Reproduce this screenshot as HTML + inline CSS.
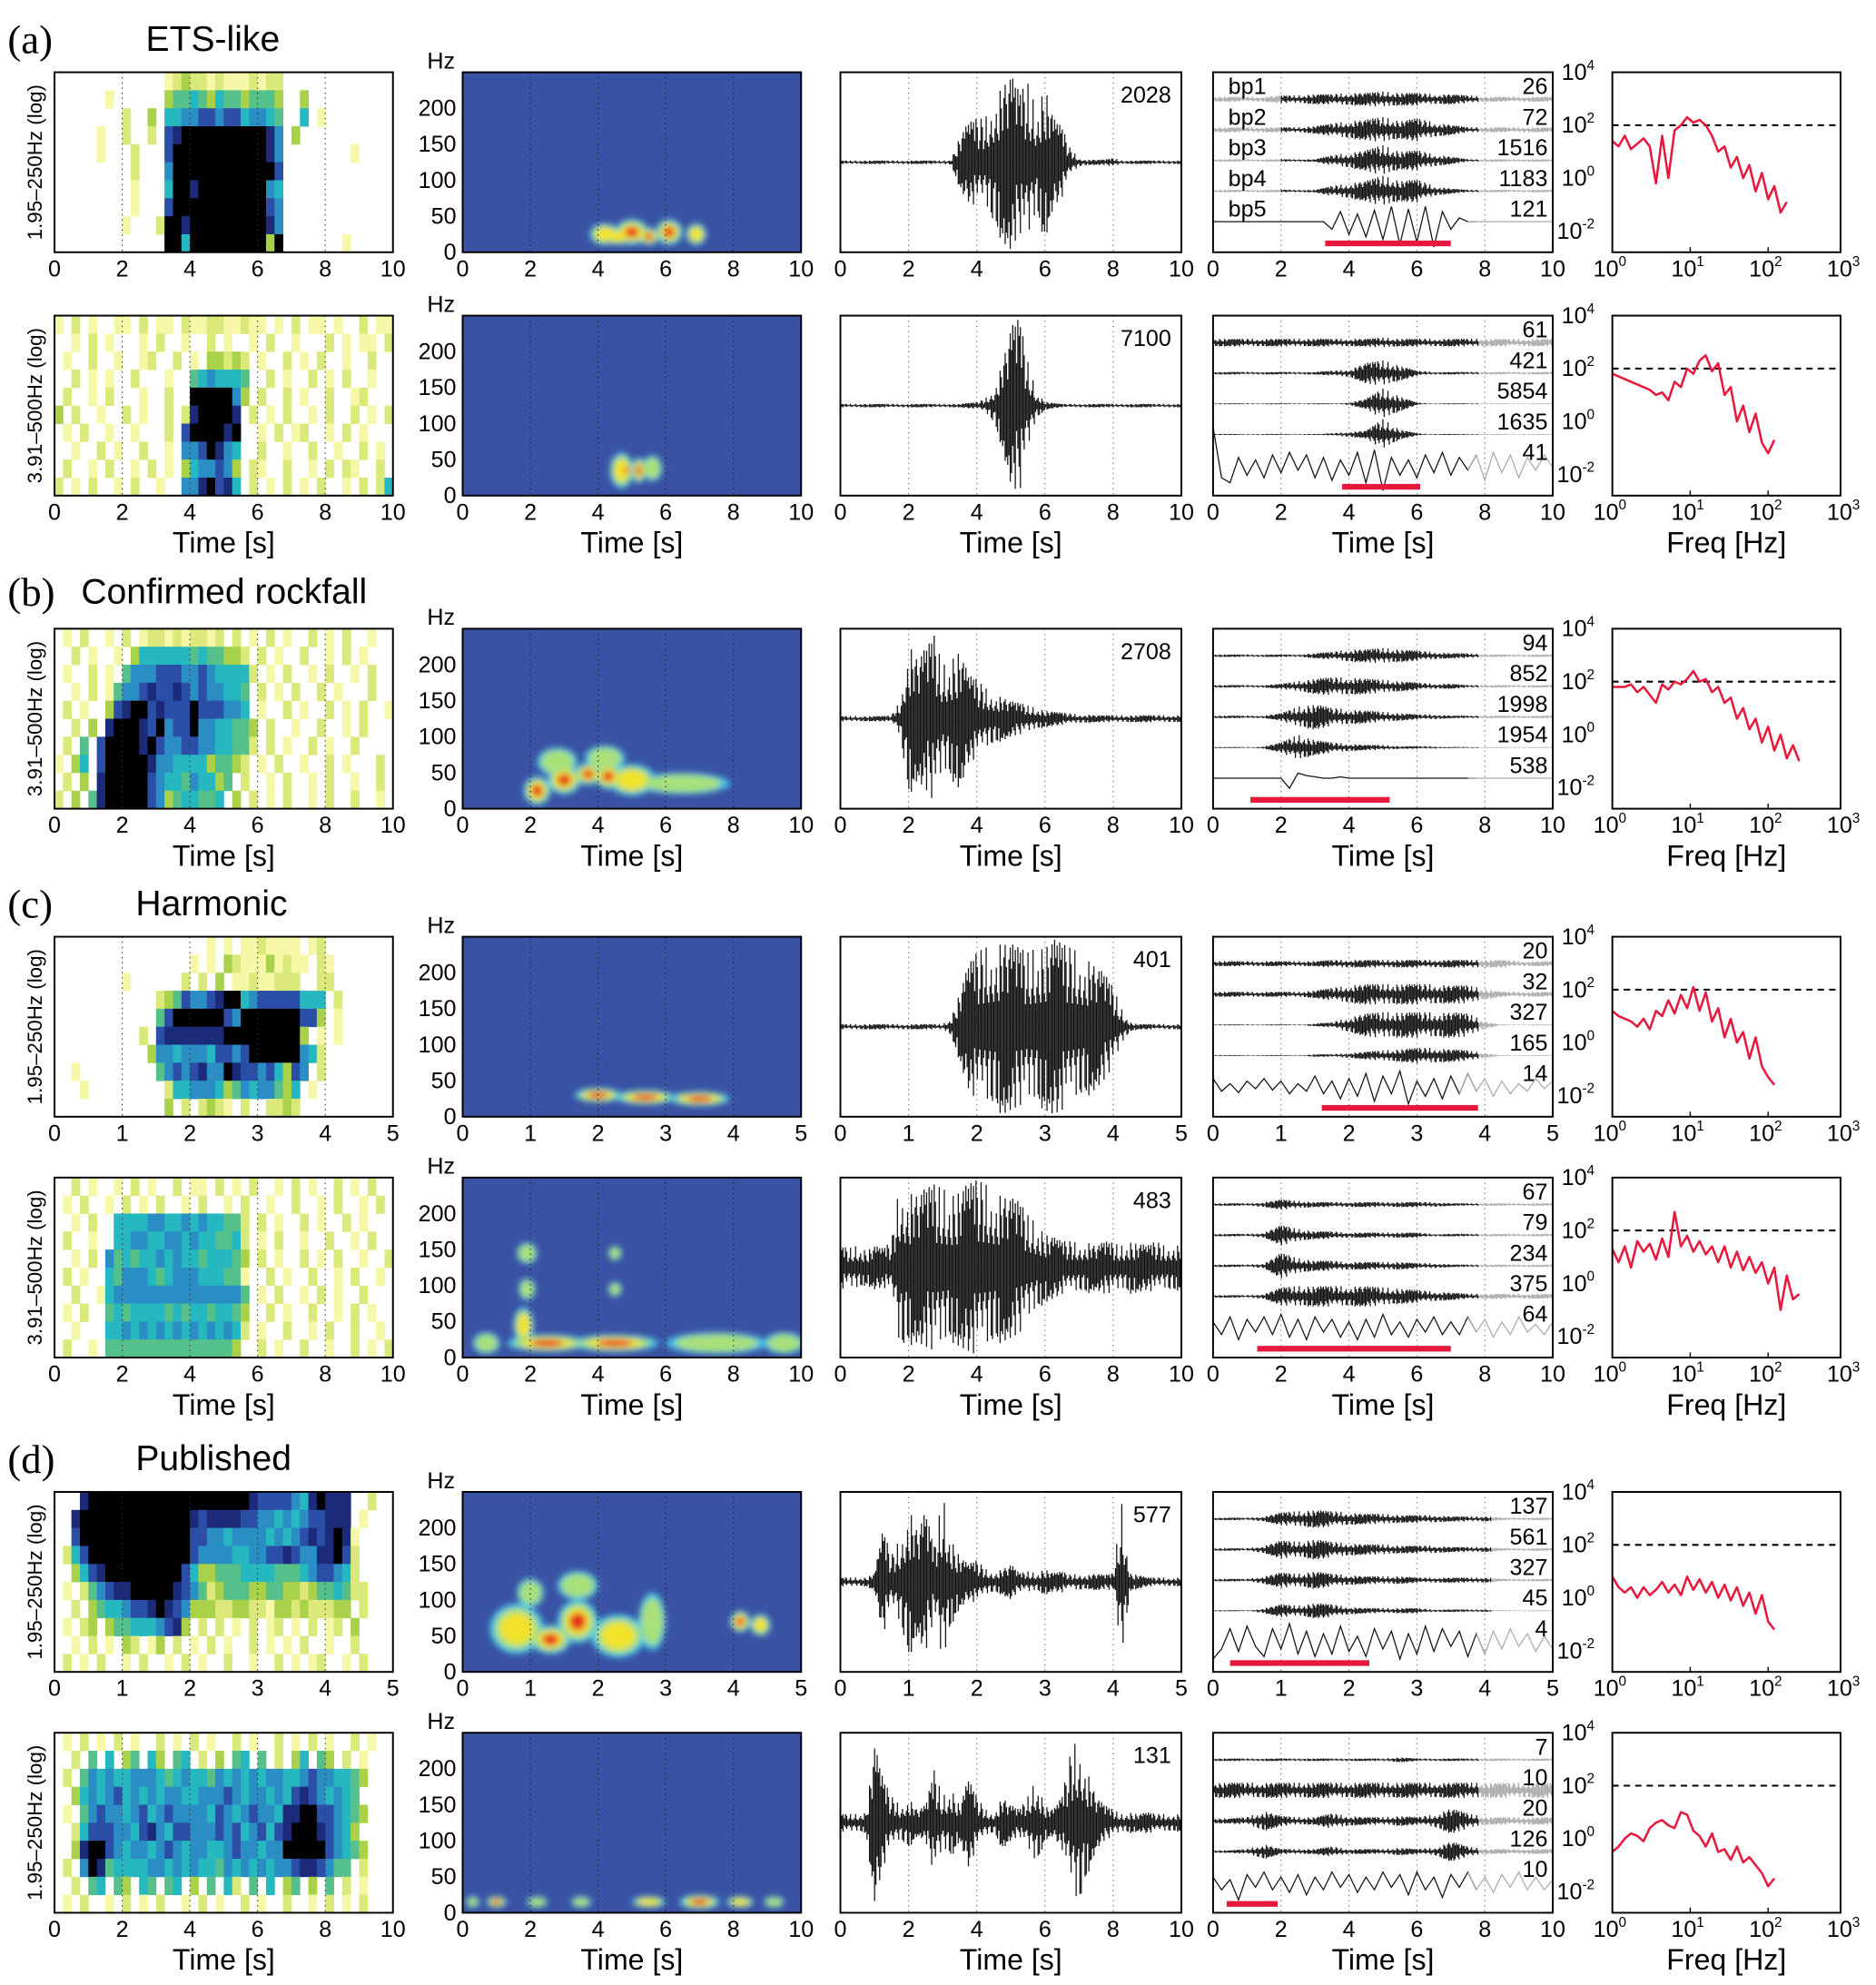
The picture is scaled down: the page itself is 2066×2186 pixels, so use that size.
<!DOCTYPE html>
<html><head><meta charset="utf-8">
<style>
html,body{margin:0;padding:0;background:#fff;}
svg{display:block;font-family:"Liberation Sans",sans-serif;}
</style></head>
<body>
<svg id="fig" width="2066" height="2186" viewBox="0 0 1480 1566" preserveAspectRatio="none" xmlns="http://www.w3.org/2000/svg">
<defs><filter id="blur" x="-50%" y="-50%" width="200%" height="200%"><feGaussianBlur stdDeviation="2.5"/></filter></defs>
<g font-family="Liberation Serif,serif" font-size="32"><text x="6" y="42">(a)</text><text x="6" y="478">(b)</text><text x="6" y="724">(c)</text><text x="6" y="1162">(d)</text></g>
<g font-size="28"><text x="115" y="40">ETS-like</text><text x="64" y="476">Confirmed rockfall</text><text x="107" y="722">Harmonic</text><text x="107" y="1160">Published</text></g>
</svg>
<script>
// ---------- DATA ----------
const rowTops=[57,249,496,739,929,1177,1367];
const rowTmax=[10,10,10,5,10,5,10];
const rowYLabels=['1.95–250Hz (log)','3.91–500Hz (log)','3.91–500Hz (log)','1.95–250Hz (log)','3.91–500Hz (log)','1.95–250Hz (log)','1.95–250Hz (log)'];
const waveNums=['2028','7100','2708','401','483','577','131'];
const heat_a1=[".............12322121112122..............","......1......34454354434443..3...........","........2..3.55667767756654..5.1.........",".....1..2..2.78999999999986.3............",".....1...2...79999999999986........1.....",".........2...69999999999997..............",".........1...59989999999965..............",".........1...79999999999976..............","........1...299899999999986..............",".............99599999999939.......1....."];
const heat_a2=["1.2.1..11.2.11.2112211211.1.2.11.1..2.11","..1.2.1...1.2..1..2.1..1.2..1...2.1.11.2",".1..2..1..12..2.1.33232.1..2.1.2..1..2..","..2.1.1..2...1..4565554..2.1..2.1.2..1..",".2..1.2...1..2..9999963.2..2.1..2..12...","3.2..1..2.1..2.2899998.2.1.2..1.2..2.1.2",".1.2..1..1...2.7999989..1.2.12..1.2.1...","..1..2.1..2..1.6679865..2..1..2..1..2.1.",".2..1.2..1.2.1.3566763.21..2..1.2.21..2.","2.1.2..1.2..1..6689785.2.1.2.1.2..1.2.25"];
const heat_b=[".1.2..1.2.1221212212.2.1.2.1..2.1.2..1..","..2.1..1.35555554544332.2.1..2..1.2.1...",".1..2.1.4666777667655552.1.2..1.2..1.2..","..1.2.14667877876766554.2.1.2..2.1...2..",".2.1..37899787779777665.1..2.1..2.1.2..1","..2.3.899987967796655443.2..1..2..1.2...",".2.4.7999989766776655442.2.1..2.1..2....","1.35.799999866555534432.1.2..1..2.1...2.",".2.3.8999997655465534.2..1.2..1.2..1..2.","2.3.4899999763455445.3.2.1.2..1.2..2..1."];
const heat_c1=["..................1.1.1121111.12........","................1.1.3211131211.21.......","........1......2.2.3.11211222..22.......","............23476678995677777555.2......","............47999999769999999773.1......","..........2.788888889999999993.1.1......","...........366566657767999999652........","..1.........467678669877675376.2........","...1.........2556665346566435.1.........",".............3.2.2321.2..2232..........."];
const heat_c2=["..2.1..1.2.1..2.11.2.1.2..1.2.1..2.1.2..",".1.2..1.2.1.2..1.2..1.2..1..2..1.2..1.2.","..1.2..5555665565655442.2.1..2.1..2.1...",".2..1..5566556656554452.1.2..1..2..1.2..","..1.2.64545565655455543.2.1..2.1.2..1..2",".2.1..54666545666555441..2.1..2..1.2..1.","..2..156666666666666664.1.2..1.2.1..2...",".1.2..45455554545545543..2.1..2..1.2.1..","..1...55656565656565652.1..2..1.2..2..1.",".2..1.4444444444444443..2.1..2..1..2.1.2"];
const heat_d1=["...89999999999999999999877776589888..2..","..899999999999998788887766565677888.1...","..7999999999999977665666656567878981....",".25799999999999976666556677876688972....","..3578999999999753344455554445677652....",".1.2467889999987642344433443323445422...","..2.3455677898763332233221332322233.2...",".1.23.3445556783.2.2.1.2.12.1.2.12.3....","..1.2.1.32.13.2.1.2.1..2.1.1.2..1..2....",".2.1.2..1.2..1.2.1..2..1..2.1.12..1.2..."];
const heat_d2=[".1.2.1.2.1..2.1.2.1..2.1..2.1.2.1..2.1..","..2.4.5.34.53.45.2.3.45.4.2.35.43.2.1...",".2.4656556665456554656565665567665543...","..3565675656566556667656656578765654....",".1.4676656756766665765676658899776543...","..2577766578657766676756757899987653....","..38997656656765665567665669999976543...",".2.69845555665656554656565667887644.2...","..2.45.43.54.45.3.4.52.4.5.34.3.4.2.1...",".1.2..1.2.1.2..1.2.1..2.1..2..1.2.1.2..."];
// spectrogram blobs: [time s, freq Hz, half-width s, half-height Hz, level]
const spec_a1=[[4.2,25,0.45,15,2],[4.6,22,0.4,12,2],[5.0,28,0.5,18,3],[5.5,22,0.3,12,3],[6.1,28,0.4,18,3],[6.9,25,0.3,15,2]];
const spec_a2=[[4.7,35,0.35,25,2],[5.6,38,0.3,18,1],[4.85,35,0.15,15,3],[5.2,35,0.2,18,3]];
const spec_b=[[6.5,35,1.4,15,1],[2.8,65,0.6,20,1],[4.2,70,0.6,18,1],[5.0,40,0.7,22,2],[2.2,25,0.4,20,3],[3.0,40,0.5,20,3],[3.7,48,0.4,15,3],[4.3,45,0.4,18,3]];
const spec_c1=[[2.0,30,0.35,10,3],[2.7,27,0.45,10,3],[3.5,25,0.45,10,3]];
const spec_c2=[[0.7,20,0.4,15,1],[7.5,20,1.5,15,1],[9.5,20,0.6,15,1],[1.9,95,0.25,15,1],[1.9,145,0.3,15,1],[4.5,95,0.2,10,1],[4.5,145,0.2,10,1],[1.8,45,0.3,25,2],[2.5,20,1.2,12,3],[4.5,20,1.3,12,3]];
const spec_d1=[[1.0,110,0.2,20,1],[1.7,120,0.3,20,1],[2.8,70,0.2,40,1],[0.8,60,0.4,35,2],[2.3,50,0.4,30,2],[1.3,45,0.3,20,3],[1.7,70,0.3,30,3],[4.1,70,0.15,15,3],[4.4,65,0.15,15,2]];
const spec_d2=[[0.3,15,0.2,8,1],[2.2,15,0.3,8,1],[3.5,15,0.3,8,1],[9.2,15,0.3,8,1],[5.5,15,0.5,8,2],[8.2,15,0.4,8,2],[1.0,15,0.3,8,3],[7.0,15,0.6,10,3]];
// waveform envelopes (relative amplitude, evenly spaced over record)
const env_a1=[.02,.02,.02,.02,.02,.02,.02,.02,.02,.02,.02,.02,.02,.03,.3,.45,.5,.5,.75,.9,1,.8,.9,.6,.9,.5,.4,.15,.05,.03,.03,.03,.05,.02,.02,.02,.02,.02,.02,.02,.02];
const env_a2=[.02,.02,.02,.02,.02,.02,.02,.02,.02,.02,.02,.02,.02,.02,.02,.03,.04,.08,.2,.5,.9,1,.5,.15,.05,.03,.02,.02,.02,.02,.02,.02,.02,.02,.02,.02,.02,.02,.02,.02,.02];
const env_b=[.03,.03,.03,.03,.03,.03,.04,.2,.9,.7,.8,.95,.6,.7,.8,.5,.45,.35,.3,.25,.2,.18,.15,.12,.1,.08,.07,.06,.05,.05,.04,.04,.04,.04,.04,.04,.04,.04,.04,.04,.04];
const env_c1=[.03,.03,.03,.03,.03,.03,.03,.03,.03,.03,.03,.03,.03,.1,.4,.7,.85,.9,.95,1,.95,.9,.85,.9,.95,1,.95,.9,.85,.8,.7,.6,.45,.2,.05,.03,.03,.03,.03,.03,.03];
const env_c2=[.25,.22,.25,.2,.25,.22,.3,1,.9,.85,.9,.95,.9,.85,.9,.95,1,.95,.9,.85,.8,.75,.6,.5,.4,.35,.3,.3,.28,.3,.25,.3,.28,.25,.3,.28,.25,.3,.25,.28,.25];
const env_d1=[.05,.05,.05,.05,.1,.6,.3,.5,.9,.6,.8,.4,1,.5,.3,.2,.25,.15,.12,.15,.2,.1,.12,.1,.15,.1,.12,.08,.1,.08,.1,.08,.1,.9,.1,.08,.05,.05,.05,.05,.05];
const env_d2=[.1,.1,.1,.12,.9,.5,.3,.2,.3,.15,.2,.6,.3,.4,.2,.5,.3,.15,.12,.3,.2,.15,.3,.5,.2,.15,.3,.8,1,.6,.3,.2,.15,.1,.12,.1,.12,.1,.1,.1,.1];
// band-pass envelopes (px) bp1..bp4, bp5 wiggle (px)
const bands_a1=[[2,2,2,2,3,3,4,4,5,5,6,5,5,4,4,3,2,2,2,2,2],[2,2,2,2,2,2,3,5,7,8,10,7,9,6,4,2,2,2,2,2,2],[1,1,1,1,1,1,1,4,6,8,12,7,8,5,3,1,1,1,1,1,1],[1,1,1,1,1,1,1,4,6,8,12,8,9,4,2,1,1,1,1,1,1]];
const bands_a2=[[3,3,3,3,3,3,3,3,3,3,4,3,3,3,3,3,3,3,3,3,3],[1,1,1,1,1,1,1,2,3,8,10,6,2,1,1,1,1,1,1,1,1],[0,0,0,0,0,0,0,0,1,4,12,6,1,0,0,0,0,0,0,0,0],[0,0,0,0,0,0,0,1,2,3,12,4,1,0,0,0,0,0,0,0,0]];
const bands_b=[[1,1,1,1,1,1,2,3,5,5,6,5,4,3,2,2,1,1,1,1,1],[1,1,1,1,2,4,6,7,7,6,5,4,3,2,2,1,1,1,1,1,1],[1,1,1,1,3,8,10,7,6,5,4,3,2,2,1,1,1,1,1,1,1],[0,0,0,1,4,10,6,4,3,2,2,1,1,1,0,0,0,0,0,0,0]];
const bands_c1=[[2,2,2,2,2,2,2,3,3,3,3,3,3,3,3,3,3,3,2,2,2],[2,2,2,2,2,2,3,5,7,8,8,8,8,8,7,7,4,2,2,2,2],[0,0,0,0,0,0,1,2,6,9,10,10,10,10,10,9,3,0,0,0,0],[0,0,0,0,0,0,1,1,2,3,4,5,6,6,5,4,2,0,0,0,0]];
const bands_c2=[[1,1,1,2,4,3,2,2,2,2,2,2,2,2,1,1,1,1,1,1,1],[1,1,1,2,8,5,3,3,2,2,2,2,2,1,1,1,1,1,1,1,1],[1,1,1,2,10,6,4,4,3,3,3,3,2,2,1,1,1,1,1,1,1],[1,1,1,2,7,8,8,8,8,8,7,6,5,4,3,2,2,2,2,2,2]];
const bands_d1=[[1,1,1,2,5,6,7,6,5,4,4,3,3,3,2,2,2,1,1,1,1],[1,1,1,3,7,6,8,6,5,4,4,3,3,3,2,2,2,1,1,1,1],[1,1,1,3,6,5,7,5,4,3,3,3,2,2,2,2,2,1,1,1,1],[0,0,0,2,5,4,6,5,3,2,2,2,2,1,1,1,1,0,0,0,0]];
const bands_d2=[[1,1,1,1,1,1,1,1,1,1,1,2,1,1,1,1,1,1,1,1,1],[6,6,6,6,6,6,6,6,6,6,6,6,6,6,6,6,6,6,6,6,6],[2,2,3,8,4,3,3,6,4,3,3,4,3,5,10,6,3,3,3,3,3],[1,1,2,6,2,2,2,4,2,2,2,3,2,3,8,4,2,2,2,2,2]];
const wig_a1=[0,0,0,0,0,0,0,0,0,0,0,0,0,0,-6,8,-10,6,-12,9,-14,12,-18,10,-16,12,-20,8,-6,3,0,0,0,0,0,0,0,0,0,0,0];
const wig_a2=[30,-10,-14,6,-8,4,-10,8,-6,10,-4,8,-10,6,-12,4,-8,10,-14,12,-20,6,-8,4,-10,8,-6,10,-8,6,-4,8,-12,10,-6,8,-10,6,-4,8,-2];
const wig_b=[0,0,0,0,0,0,0,0,0,-8,4,2,1,0,0,1,0,0,0,0,0,0,0,0,0,0,0,0,0,0,0,0,0,0,0,0,0,0,0,0,0];
const wig_c1=[6,-4,2,-5,4,-2,6,-3,4,-6,2,-4,8,-6,4,-10,6,-8,10,-12,8,-6,12,-14,4,-8,6,-10,8,-6,10,-4,6,-8,4,-6,2,-4,6,-2,4];
const wig_c2=[4,-6,8,-10,6,-4,8,-6,10,-8,6,-10,8,-4,6,-8,4,-10,6,-8,10,-6,4,-8,6,-4,8,-6,4,-6,8,-4,6,-8,4,-6,8,-4,2,-6,4];
const wig_d1=[-14,-6,10,-8,12,-4,-12,10,-6,14,-10,8,-12,6,-10,12,-8,4,-12,10,-6,8,-14,6,-10,12,-8,10,-4,8,-12,6,-10,8,-6,10,-4,6,-8,4,-6];
const wig_d2=[4,-6,2,-14,6,-4,8,-6,4,-8,6,-10,4,-6,8,-4,6,-8,4,-6,8,-4,6,-10,8,-6,4,-12,6,-4,8,-6,4,-8,6,-4,8,-6,4,-6,2];
const nums_a1=['26','72','1516','1183','121'];
const nums_a2=['61','421','5854','1635','41'];
const nums_b=['94','852','1998','1954','538'];
const nums_c1=['20','32','327','165','14'];
const nums_c2=['67','79','234','375','64'];
const nums_d1=['137','561','327','45','4'];
const nums_d2=['7','10','20','126','10'];
const bars=[[3.3,7.0],[3.8,6.1],[1.1,5.2],[1.6,3.9],[1.3,7.0],[0.25,2.3],[0.4,1.9]];
const blackWin=[[2,7.8],[0,7.8],[0,7.8],[0,3.9],[0,7.8],[0,4.1],[0,7.8]];
// spectra: log10 frequency grid and log10 amplitude
const freqLog=[0,.08,.16,.24,.32,.40,.48,.56,.64,.72,.80,.88,.96,1.04,1.12,1.20,1.28,1.36,1.44,1.52,1.60,1.68,1.76,1.84,1.92,2.00,2.08,2.16,2.24,2.32,2.40];
const psd_a1=[1.4,1.2,1.6,1.1,1.3,1.5,1.2,-0.2,1.6,0.0,1.8,2.0,2.3,2.1,2.2,2.0,1.6,1.0,1.2,0.4,0.8,0.0,0.5,-0.5,0.2,-0.8,-0.3,-1.3,-0.9,null,null];
const psd_a2=[1.8,1.7,1.6,1.5,1.4,1.3,1.2,1.0,1.1,0.8,1.5,1.3,2.0,1.8,2.3,2.5,1.9,2.2,1.0,1.3,0.0,0.6,-0.4,0.3,-0.8,-1.2,-0.7,null,null,null,null];
const psd_b=[1.8,1.8,1.8,1.9,1.6,1.8,1.5,1.2,1.9,1.7,2.0,1.9,2.1,2.4,2.0,2.1,1.6,1.8,1.2,1.4,0.6,1.0,0.2,0.6,-0.3,0.3,-0.6,0.0,-0.9,-0.4,-1.0];
const psd_c1=[1.2,1.0,0.9,0.8,0.6,0.9,0.5,1.2,1.0,1.6,1.1,1.8,1.3,2.1,1.2,1.9,0.8,1.3,0.2,0.9,0.0,0.4,-0.6,0.2,-0.9,-1.3,-1.6,null,null,null,null];
const psd_c2=[1.3,0.8,1.4,0.6,1.6,1.2,1.5,0.9,1.7,1.0,2.7,1.4,1.8,1.2,1.6,1.1,1.4,0.8,1.4,0.6,1.2,0.5,1.0,0.4,0.8,0.0,0.6,-1.0,0.3,-0.6,-0.4];
const psd_d1=[0.8,0.4,0.2,0.4,0.0,0.4,0.1,0.3,0.6,0.2,0.5,0.1,0.8,0.3,0.7,0.2,0.6,0.0,0.5,-0.1,0.4,-0.3,0.2,-0.6,0.1,-0.9,-1.2,null,null,null,null];
const psd_d2=[-0.5,-0.3,0.0,0.2,0.1,-0.1,0.4,0.6,0.7,0.5,0.4,1.0,0.9,0.3,0.1,-0.3,0.2,-0.5,-0.4,-0.8,-0.3,-0.9,-0.7,-1.0,-1.3,-1.8,-1.5,null,null,null,null];

const heats=[heat_a1,heat_a2,heat_b,heat_c1,heat_c2,heat_d1,heat_d2];
const specs=[spec_a1,spec_a2,spec_b,spec_c1,spec_c2,spec_d1,spec_d2];
const envs=[env_a1,env_a2,env_b,env_c1,env_c2,env_d1,env_d2];
const bandsAll=[bands_a1,bands_a2,bands_b,bands_c1,bands_c2,bands_d1,bands_d2];
const wigs=[wig_a1,wig_a2,wig_b,wig_c1,wig_c2,wig_d1,wig_d2];
const numsAll=[nums_a1,nums_a2,nums_b,nums_c1,nums_c2,nums_d1,nums_d2];
const psds=[psd_a1,psd_a2,psd_b,psd_c1,psd_c2,psd_d1,psd_d2];

// ---------- RENDER ----------
const NS='http://www.w3.org/2000/svg';
const svg=document.getElementById('fig');
const PH=142;
const TF=18;
const COLS=[[43,310],[365,632],[663,932],[957,1225],[1272,1452]];
const HEATC={'1':'#f7f7a8','2':'#dbe87a','3':'#a9d24a','4':'#55c08a','5':'#26b8c0','6':'#2a8ec4','7':'#2b4fa8','8':'#1c2a7a','9':'#000000'};
const PAT=[[1,.5],[.4,.9],[.8,.7],[.3,.4],[.95,1],[.5,.3],[.7,.85]];
function mk(tag,parent){const e=document.createElementNS(NS,tag);parent.appendChild(e);return e;}
function txt(parent,x,y,s,size,anchor){const t=mk('text',parent);t.setAttribute('x',x);t.setAttribute('y',y);t.setAttribute('font-size',size);t.setAttribute('text-anchor',anchor||'middle');t.textContent=s;return t;}
function lerp(arr,u){const p=u*(arr.length-1);const i=Math.floor(p);const f=p-i;if(i>=arr.length-1)return arr[arr.length-1];return arr[i]*(1-f)+arr[i+1]*f;}
function xs(c,t,tmax){return COLS[c][0]+(COLS[c][1]-COLS[c][0])*t/tmax;}
function frame(g,c,top){const r=mk('rect',g);r.setAttribute('x',COLS[c][0]);r.setAttribute('y',top);r.setAttribute('width',COLS[c][1]-COLS[c][0]);r.setAttribute('height',PH);r.setAttribute('fill','none');r.setAttribute('stroke','#000');r.setAttribute('stroke-width','1.4');}
function timeTicks(g,c,top,tmax,grid,gridColor){const step=tmax===5?1:2;for(let t=0;t<=tmax;t+=step){const x=xs(c,t,tmax);const l=txt(g,x,top+PH+19,String(t),TF);if(grid&&t>0&&t<tmax){const ln=mk('line',g);ln.setAttribute('x1',x);ln.setAttribute('x2',x);ln.setAttribute('y1',top);ln.setAttribute('y2',top+PH);ln.setAttribute('stroke',gridColor);ln.setAttribute('stroke-width','0.8');ln.setAttribute('stroke-dasharray','1,3');}}}
function drawWave(parent,c,mid,env,tmax,scale,win){let dk='',gr='';const x0=COLS[c][0]+1,x1=COLS[c][1]-1;for(let px=x0;px<=x1;px+=1){const u=(px-COLS[c][0])/(COLS[c][1]-COLS[c][0]);const a=Math.max(0.4,lerp(env,u)*scale);const p=PAT[Math.round(px*1.7)%7];const s='M'+px+' '+(mid-a*p[0]).toFixed(1)+'V'+(mid+a*p[1]).toFixed(1);const t=u*tmax;if(!win||(t>=win[0]&&t<=win[1]))dk+=s;else gr+=s;}
 const a=mk('path',parent);a.setAttribute('d',dk);a.setAttribute('stroke','#111');a.setAttribute('stroke-width','0.9');
 if(gr){const b=mk('path',parent);b.setAttribute('d',gr);b.setAttribute('stroke','#aaa');b.setAttribute('stroke-width','0.9');}}

for(let r=0;r<7;r++){
 const top=rowTops[r],tmax=rowTmax[r],bot=top+PH;
 const showLabel=(r===1||r===2||r===4||r===6);
 // col1 heatmap
 const g1=mk('g',svg);
 const heat=heats[r];const cw=(COLS[0][1]-COLS[0][0])/40,ch=PH/heat.length;
 heat.forEach((row,i)=>{for(let j=0;j<40;j++){const k=row[j];if(!k||k==='.')continue;const c=mk('rect',g1);c.setAttribute('x',(COLS[0][0]+j*cw).toFixed(2));c.setAttribute('y',(top+i*ch).toFixed(2));c.setAttribute('width',(cw+0.3).toFixed(2));c.setAttribute('height',(ch+0.3).toFixed(2));c.setAttribute('fill',HEATC[k]);}});
 timeTicks(g1,0,top,tmax,true,'#333');frame(g1,0,top);
 const yl=txt(g1,0,0,rowYLabels[r],16);yl.setAttribute('transform','translate(33,'+(top+PH/2)+') rotate(-90)');
 if(showLabel){const tl=txt(g1,(COLS[0][0]+COLS[0][1])/2,bot+45,'Time [s]',23);}
 // col2 spectrogram
 const g2=mk('g',svg);
 const cp=mk('clipPath',g2);cp.setAttribute('id','cp'+r);const cr=mk('rect',cp);cr.setAttribute('x',COLS[1][0]);cr.setAttribute('y',top);cr.setAttribute('width',COLS[1][1]-COLS[1][0]);cr.setAttribute('height',PH);
 const bg=mk('rect',g2);bg.setAttribute('x',COLS[1][0]);bg.setAttribute('y',top);bg.setAttribute('width',COLS[1][1]-COLS[1][0]);bg.setAttribute('height',PH);bg.setAttribute('fill','#3a52a3');
 const bl=mk('g',g2);bl.setAttribute('clip-path','url(#cp'+r+')');
 const bi=mk('g',bl);bi.setAttribute('filter','url(#blur)');
 const fy=f=>bot-f/250*PH;
 const layers=[[1,1,'#3fc4e6'],[0.82,1,'#a8e07a'],[0.62,2,'#f2e22c'],[0.4,3,'#e8251d']];
 layers.forEach(L=>{specs[r].forEach(b=>{if(b[4]<L[1])return;const e=mk('ellipse',bi);e.setAttribute('cx',xs(1,b[0],tmax));e.setAttribute('cy',fy(b[1]));e.setAttribute('rx',(b[2]/tmax*(COLS[1][1]-COLS[1][0])*L[0]).toFixed(1));e.setAttribute('ry',(b[3]/250*PH*L[0]).toFixed(1));e.setAttribute('fill',L[2]);});});
 timeTicks(g2,1,top,tmax,true,'#222');
 [0,50,100,150,200].forEach(f=>{const l=txt(g2,COLS[1][0]-5,fy(f)+6,String(f),TF,'end');});
 const hz=txt(g2,COLS[1][0]-6,top-3,'Hz',TF,'end');
 frame(g2,1,top);
 if(showLabel){const tl=txt(g2,(COLS[1][0]+COLS[1][1])/2,bot+45,'Time [s]',23);}
 // col3 waveform
 const g3=mk('g',svg);
 timeTicks(g3,2,top,tmax,true,'#777');
 drawWave(g3,2,top+PH/2,envs[r],tmax,PH/2-2,null);
 const wn=txt(g3,COLS[2][1]-8,top+24,waveNums[r],TF,'end');
 frame(g3,2,top);
 if(showLabel){const tl=txt(g3,(COLS[2][0]+COLS[2][1])/2,bot+45,'Time [s]',23);}
 // col4 band-pass traces
 const g4=mk('g',svg);
 timeTicks(g4,3,top,tmax,true,'#777');
 const offs=[0.15,0.32,0.49,0.66,0.83];
 bandsAll[r].forEach((bd,i)=>{drawWave(g4,3,top+PH*offs[i],bd,tmax,1,blackWin[r]);});
 const wy=top+PH*offs[4];let ptsB='',ptsG='';
 wigs[r].forEach((v,i)=>{const t=i/(wigs[r].length-1)*tmax;const p=xs(3,t,tmax).toFixed(1)+','+(wy-v).toFixed(1)+' ';if(t<=blackWin[r][1]+0.01)ptsB+=p;if(t>=blackWin[r][1]-0.3)ptsG+=p;});
 const pw=mk('polyline',g4);pw.setAttribute('points',ptsB);pw.setAttribute('fill','none');pw.setAttribute('stroke','#111');pw.setAttribute('stroke-width','0.9');
 const pg=mk('polyline',g4);pg.setAttribute('points',ptsG);pg.setAttribute('fill','none');pg.setAttribute('stroke','#aaa');pg.setAttribute('stroke-width','0.9');
 numsAll[r].forEach((n,i)=>{const t=txt(g4,COLS[3][1]-4,top+PH*offs[i]-4,n,TF,'end');if(r===0){const b=txt(g4,COLS[3][0]+12,top+PH*offs[i]-4,'bp'+(i+1),TF,'start');}});
 const rb=mk('rect',g4);rb.setAttribute('x',xs(3,bars[r][0],tmax));rb.setAttribute('y',top+PH*0.935);rb.setAttribute('width',xs(3,bars[r][1],tmax)-xs(3,bars[r][0],tmax));rb.setAttribute('height',4.5);rb.setAttribute('fill','#e8173c');
 frame(g4,3,top);
 if(showLabel){const tl=txt(g4,(COLS[3][0]+COLS[3][1])/2,bot+45,'Time [s]',23);}
 // col5 spectrum
 const g5=mk('g',svg);
 const lx=v=>COLS[4][0]+(COLS[4][1]-COLS[4][0])*v/2.93;const ly=v=>top+(4-v)/6.8*PH;
 [0,1,2,3].forEach(d=>{const t=mk('text',g5);t.setAttribute('x',lx(d)-2);t.setAttribute('y',bot+19);t.setAttribute('font-size',TF);t.setAttribute('text-anchor','middle');t.textContent='10';const s=mk('tspan',t);s.setAttribute('font-size','11');s.setAttribute('dy','-8');s.textContent=String(d);
  if(d>0&&d<3){const tk=mk('line',g5);tk.setAttribute('x1',lx(d));tk.setAttribute('x2',lx(d));tk.setAttribute('y1',bot);tk.setAttribute('y2',bot-4);tk.setAttribute('stroke','#000');}});
 [4,2,0,-2].forEach(d=>{const t=mk('text',g5);t.setAttribute('x',COLS[4][0]-14);t.setAttribute('y',ly(d)+6);t.setAttribute('font-size',TF);t.setAttribute('text-anchor','end');t.textContent='10';const s=mk('tspan',t);s.setAttribute('font-size','11');s.setAttribute('dy','-8');s.textContent=String(d);});
 const dl=mk('line',g5);dl.setAttribute('x1',COLS[4][0]);dl.setAttribute('x2',COLS[4][1]);dl.setAttribute('y1',ly(2));dl.setAttribute('y2',ly(2));dl.setAttribute('stroke','#000');dl.setAttribute('stroke-width','1.5');dl.setAttribute('stroke-dasharray','5,4');
 let pts='';psds[r].forEach((v,i)=>{if(v===null)return;pts+=lx(freqLog[i]).toFixed(1)+','+ly(v).toFixed(1)+' ';});
 const pl=mk('polyline',g5);pl.setAttribute('points',pts);pl.setAttribute('fill','none');pl.setAttribute('stroke','#e8173c');pl.setAttribute('stroke-width','1.8');pl.setAttribute('stroke-linejoin','round');
 frame(g5,4,top);
 if(showLabel){const tl=txt(g5,(COLS[4][0]+COLS[4][1])/2,bot+45,'Freq [Hz]',23);}
}
</script>
</body></html>
